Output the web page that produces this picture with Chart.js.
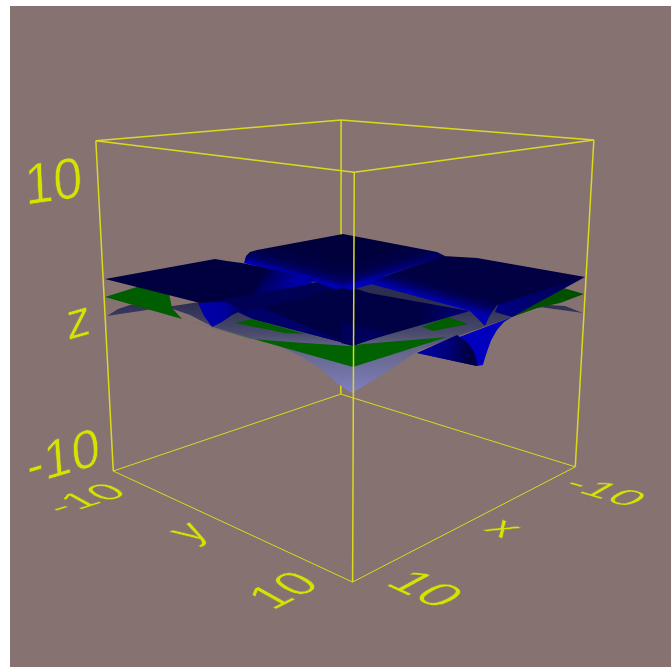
<!DOCTYPE html>
<html><head><meta charset="utf-8"><style>html,body{margin:0;background:#fff}canvas{display:block}</style>
<script src="https://cdn.jsdelivr.net/npm/chart.js@4/dist/chart.umd.min.js"></script></head>
<body><canvas id="c" width="671" height="667"></canvas>
<script>
// Data: surface patches, as [x, y, z] in the plot's own axis units.
const axisRange=[-10,10];
const greySurface=[[10,-9.80,-0.20],[10,-8.65,0.43],[10,-7.45,0.88],[10,-5.54,1.27],[10,-3.73,1.36],[10,-2.00,1.28],[10,-0.10,0.97],[10,2.81,0.95],[10,4.81,0.98],[10,6.44,0.75],[10,7.81,0.44],[10,9.01,-0.09],[10,9.91,-0.32],[8.71,10,-0.02],[6.70,10,0.42],[5.20,10,0.76],[1.15,10,0.86],[-2.59,10,0.96],[-4.29,10,1.03],[-6.08,10,0.99],[-7.87,10,0.61],[-9.89,10,-0.19],[-8.40,-8.07,-0.80]];
const greenLeft=[[9.00,-11.40,0.5],[5.82,-12.26,0.5],[5.87,-9.24,0.5],[7.87,-6.36,0.5],[9.01,-3.99,0.5]];
const greenStrip=[[7.54,-1.21,0.5],[6.33,-1.18,0.5],[6.44,3.15,0.5],[7.04,2.24,0.5]];
const greenFront=[[9.01,-3.99,0.5],[9.02,1.85,0.5],[8.04,3.68,0.5],[6.44,6.42,0.5],[5.71,6.65,0.5],[1.71,8.94,0.5],[8.93,8.97,0.5]];
const greenChip=[[1.09,6.72,0.5],[-1.55,6.42,0.5],[-1.13,8.14,0.5],[1.31,7.66,0.5]];
const greenRight=[[-4.02,9.01,0.5],[-6.70,8.87,0.5],[-8.64,9.17,0.5],[-11.57,8.98,0.5],[-12.15,6.90,0.5],[-9.09,6.75,0.5]];
const blueFlap=[[5.42,10,0.65],[-2.59,10,0.96],[-1.86,10,0.82],[-1.24,10,0.49],[-0.73,10,0.02],[-0.48,10,-0.41],[-0.24,10,-0.85],[-0.08,10,-1.21],[0.45,10,-1.15]];
const blueFlapInner=[[5.42,10,0.65],[2.25,10,0.93],[1.47,10,0.44],[0.93,10,-0.10],[0.56,10,-0.62],[0.45,10,-1.15]];
const blueRightSide=[[-1.00,10,1.54],[-2.59,10,0.96],[-11.42,9.08,1.6],[-1.41,10,2.12]];
const blueBand=[[10,-1.12,2.09],[7.07,-2.56,1.6],[0.77,-1.71,1.6],[0.15,0.07,1.6],[1.63,7.00,1.6],[8.98,8.94,1.6],[10,3.07,1.99],[10,1.93,2.15],[10,0.89,1.64],[10,-0.09,1.25]];
const blueBandLow=[[10,1.93,2.15],[7.13,0.64,1.6],[8.98,8.94,1.6],[10,3.07,1.99]];
const blueNotch=[[10,-1.29,2.06],[10,-0.82,1.44],[10,-0.18,0.96],[10,0.64,1.38],[10,1.45,1.90],[10,2.24,2.31],[7.67,-1.86,1.6]];
const blueBackLeft=[[-11.60,-11.33,1.6],[-3.27,-11.42,1.6],[-2.49,-11.25,1.6],[-1.42,-10.44,1.6],[0.14,-8.86,1.6],[0.77,-1.71,1.6],[1.50,1.20,1.6]];
const blueBackRight=[[-11.60,-11.33,1.6],[-11.18,-2.19,1.6],[-10.50,-0.97,1.6],[-3.27,0.16,1.6],[-1.13,1.04,1.6],[1.50,1.20,1.6]];
const blueLeft=[[8.94,-11.39,1.6],[0.61,-11.17,1.6],[0.49,-10.12,1.6],[0.23,-8.96,1.6],[0.09,-3.34,1.6],[0.58,-1.90,1.6],[1.77,-1.62,1.6],[7.57,-2.40,1.6],[8.76,-2.67,1.6]];
const blueRight=[[-11.42,9.08,1.6],[-11.44,0.95,1.6],[-10.41,-1.07,1.6],[-3.27,0.16,1.6],[-2.24,0.28,1.6],[-1.09,0.99,1.6],[-0.05,9.06,1.6],[0.58,10,1.51],[-0.14,10,0.93],[-0.56,10,1.45],[-1.16,10,1.89]];
const blueFront=[[7.13,0.64,1.6],[0.86,0.43,1.6],[-0.05,9.06,1.6],[8.98,8.94,1.6]];
const blueFrontCorner=[[6.46,5.80,1.6],[6.15,8.85,1.6],[9.07,9.09,1.6],[9.10,8.33,1.6]];
const zTickLabels=['10','-10'], yTickLabels=['-10','10'], xTickLabels=['-10','10'];
const axisTitles=['x','y','z'];

// Camera: where the eight box corners fall in the view, fitted to a projection matrix.
const cameraView=[[341,394],[113,471],[575,467],[353,582],[341,120],[96,141],[594,140],[354,172]];
const [lo,hi]=axisRange;
const boxCorners=[[lo,lo,lo],[hi,lo,lo],[lo,hi,lo],[hi,hi,lo],[lo,lo,hi],[hi,lo,hi],[lo,hi,hi],[hi,hi,hi]];
function fitCamera(){const A=[],B=[];boxCorners.forEach((c,i)=>{const[u,v,w]=c.map(q=>q/10),[X,Y]=cameraView[i];
A.push([u,v,w,1,0,0,0,0,-X*u,-X*v,-X*w]);B.push(X);A.push([0,0,0,0,u,v,w,1,-Y*u,-Y*v,-Y*w]);B.push(Y)});
const n=11,N=[];for(let i=0;i<n;i++){N[i]=[];for(let j=0;j<n;j++){let s=0;A.forEach(r=>s+=r[i]*r[j]);N[i][j]=s}let s=0;A.forEach((r,k)=>s+=r[i]*B[k]);N[i][n]=s}
for(let i=0;i<n;i++){let p=i;for(let k=i+1;k<n;k++)if(Math.abs(N[k][i])>Math.abs(N[p][i]))p=k;[N[i],N[p]]=[N[p],N[i]];for(let k=0;k<n;k++)if(k!==i){const f=N[k][i]/N[i][i];for(let j=i;j<=n;j++)N[k][j]-=f*N[i][j]}}
return N.map((r,i)=>r[n]/r[i])}
const M=fitCamera();
function project(p){const[u,v,w]=p.map(q=>q/10),d=M[8]*u+M[9]*v+M[10]*w+1;return{x:(M[0]*u+M[1]*v+M[2]*w+M[3])/d,y:(M[4]*u+M[5]*v+M[6]*w+M[7])/d}}

// Styles
function lg(x0,y0,x1,y1,stops){return c=>{const g=c.chart.ctx.createLinearGradient(x0,y0,x1,y1);stops.forEach(s=>g.addColorStop(s[0],s[1]));return g}}
const b=v=>`rgb(0,0,${v})`;
const patches=[
[greySurface,lg(0,302,0,393,[[0,'rgb(45,45,80)'],[.35,'rgb(75,75,110)'],[.5,'rgb(100,100,135)'],[1,'rgb(127,127,192)']])],
[greenLeft,'rgb(0,94,0)'],[greenStrip,'rgb(0,94,0)'],[greenFront,'rgb(0,98,0)'],[greenChip,'rgb(0,94,0)'],[greenRight,'rgb(0,80,0)'],
[blueFlap,b(190)],[blueFlapInner,lg(425,345,472,350,[[0,b(160)],[.5,b(120)],[1,b(62)]])],
[blueRightSide,lg(500,305,575,285,[[0,b(130)],[1,b(85)]])],
[blueBand,b(85)],[blueBandLow,b(105)],[blueNotch,lg(200,310,240,315,[[0,b(170)],[.6,b(160)],[1,b(100)]])],
[blueBackLeft,lg(343,262,336.5,286.2,[[0,b(60)],[.5,b(75)],[.8,b(110)],[1,b(185)]])],
[blueBackRight,lg(343,262,349.5,286.2,[[0,b(60)],[.5,b(75)],[.8,b(110)],[1,b(185)]])],
[blueLeft,lg(255,272,290,295,[[0,b(62)],[.2,b(66)],[.34,b(100)],[.7,b(140)],[1,b(170)]])],
[blueRight,lg(440,283,435,300,[[0,b(66)],[.35,b(80)],[.7,b(120)],[1,b(175)]])],
[blueFront,lg(420,305,468,315,[[0,b(68)],[1,b(125)]])],
[blueFrontCorner,b(92)]
];
const edgesBack=[[0,1,1],[0,2,1],[0,4,1.5],[4,5,1.5],[4,6,1.5]];
const edgesFront=[[1,3,1],[2,3,1],[1,5,1.5],[2,6,1.5],[3,7,1.5],[5,7,1.5],[6,7,1.5]];
const YEL='rgb(218,218,28)';
const edge=e=>({data:[boxCorners[e[0]],boxCorners[e[1]]].map(project),showLine:true,borderColor:YEL,borderWidth:e[2],pointRadius:0,fill:false});
const ds=[];
edgesBack.forEach(e=>ds.push(edge(e)));
patches.forEach(s=>ds.push({data:s[0].concat([s[0][0]]).map(project),showLine:true,borderWidth:0,borderColor:'transparent',backgroundColor:s[1],pointRadius:0,fill:'shape'}));
edgesFront.forEach(e=>ds.push(edge(e)));
ds.forEach((d,i)=>{d.order=-i;d.clip=false;d.tension=0});
// Text placement: [text, matrix a,b,c,d,e,f] for labels that lie on the faces of the box.
const textPlacement=[[zTickLabels[0],.52,-.075,.028,.58,25.4,205],[axisTitles[2],.48,-.14,.04,.52,67.5,340.4],[zTickLabels[1],.505,-.15,.04,.54,28,485.5],
[yTickLabels[0],.47,-.15,.33,.18,62,515.5],[axisTitles[1],.42,-.2,.42,.22,191,543.4],[yTickLabels[1],.45,-.23,.43,.24,272.5,611],
[xTickLabels[0],.485,.144,-.31,.18,560,487],[axisTitles[0],.42,.19,-.37,.2,482,529.4],[xTickLabels[1],.5,.23,-.44,.24,383,584]];
const BG='rgb(135,114,114)';
new Chart(document.getElementById('c'),{type:'scatter',data:{datasets:ds},options:{responsive:false,animation:false,
layout:{padding:0},plugins:{legend:{display:false},tooltip:{enabled:false}},
scales:{x:{type:'linear',min:0,max:671,display:false},y:{type:'linear',min:0,max:667,reverse:true,display:false}}},
plugins:[{id:'backdrop',beforeDraw(c){const x=c.ctx;x.save();x.fillStyle=BG;x.fillRect(10,6,661,661);x.restore()},
afterDraw(c){const x=c.ctx;textPlacement.forEach(l=>{x.save();x.setTransform(l[1],l[2],l[3],l[4],l[5],l[6]);x.font='100px "Liberation Sans"';x.fillStyle='rgb(214,226,0)';x.textBaseline='alphabetic';x.fillText(l[0],0,0);x.strokeStyle=BG;x.lineWidth=1.2;x.strokeText(l[0],0,0);x.restore()})}}]});
</script></body></html>
